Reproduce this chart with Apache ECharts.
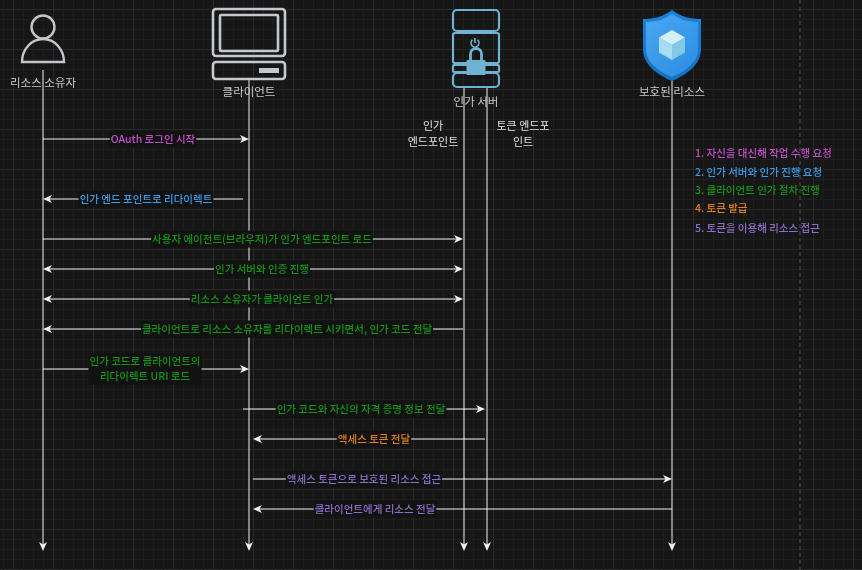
<!DOCTYPE html>
<html>
<head>
<meta charset="utf-8">
<title>OAuth 인가 코드 흐름</title>
<script src="https://cdn.jsdelivr.net/npm/echarts@6.0.0/dist/echarts.min.js"></script>
<style>
  html, body { margin: 0; padding: 0; background: #161616; }
  #main { width: 862px; height: 570px; }
</style>
</head>
<body>
<div id="main"></div>
<script>
// 참여자 (아이콘 + 이름)
var actorNames = ['리소스 소유자', '클라이언트', '인가 서버', '보호된 리소스'];
var actorX = [43, 249, 476, 672];
var actorIconY = [40, 44, 48, 45];
var actorLabelY = [83, 92, 102, 92];

// 생명선
var lifelineX = [43, 249, 464, 487, 672];
var lifelineTop = [70, 80, 88, 88, 80];
var lifelineEnd = 551;

// 인가 서버의 엔드포인트 이름
var endpointNames = ['인가\n엔드포인트', '토큰 엔드포\n인트'];
var endpointX = [433, 523];
var endpointY = [134, 134];

// 메시지
var msgLabels = [
  'OAuth 로그인 시작',
  '인가 엔드 포인트로 리다이렉트',
  '사용자 에이전트(브라우저)가 인가 엔드포인트 로드',
  '인가 서버와 인증 진행',
  '리소스 소유자가 클라이언트 인가',
  '클라이언트로 리소스 소유자를 리다이렉트 시키면서, 인가 코드 전달',
  '인가 코드로 클라이언트의\n리다이렉트 URI 로드',
  '인가 코드와 자신의 자격 증명 정보 전달',
  '액세스 토큰 전달',
  '액세스 토큰으로 보호된 리소스 접근',
  '클라이언트에게 리소스 전달'
];
var msgFrom = [43, 243, 43, 43, 43, 463, 43, 243, 485, 253, 672];
var msgTo = [249, 43, 463, 463, 463, 43, 249, 485, 253, 672, 253];
var msgY = [139, 199, 239, 269, 299, 329, 369, 409, 439, 479, 509];
var msgTwoWay = [0, 0, 0, 1, 1, 0, 0, 0, 0, 0, 0];
var msgLabelX = [153, 146, 262, 262, 262, 287, 145, 361, 374, 364, 375];
var msgStep = [0, 1, 2, 2, 2, 2, 2, 2, 3, 4, 4];

// 단계 설명
var stepNames = [
  '1. 자신을 대신해 작업 수행 요청',
  '2. 인가 서버와 인가 진행 요청',
  '3. 클라이언트 인가 절차 진행',
  '4. 토큰 발급',
  '5. 토큰을 이용해 리소스 접근'
];
var stepY = [153, 172, 190, 208, 228];
var stepX = [695, 695, 695, 695, 695];

var pageBreakX = [800];

var stepColors = ['#c24fc8', '#3b9be8', '#149514', '#e4801a', '#8a6ec8'];
var BG = '#161616';
var LINE = '#f0f0f0';
var FONT = '"Noto Sans CJK KR", "Noto Sans", sans-serif';

var chart = echarts.init(document.getElementById('main'));

// 화살촉 (draw.io classic 모양)
function arrowHead(x, y, dx, dy) {
  var L = 9, W = 4, N = 6.5;
  return {
    type: 'polygon',
    shape: { points: [
      [x, y],
      [x - dx * L - dy * W, y - dy * L + dx * W],
      [x - dx * N, y - dy * N],
      [x - dx * L + dy * W, y - dy * L - dx * W]
    ] },
    style: { fill: LINE }
  };
}

function renderLifeline(params, api) {
  var a = api.coord([api.value(0), api.value(1)]);
  var b = api.coord([api.value(0), api.value(2)]);
  return {
    type: 'group',
    children: [
      { type: 'line', shape: { x1: a[0], y1: a[1], x2: b[0], y2: b[1] - 3 }, style: { stroke: LINE, lineWidth: 1 } },
      arrowHead(b[0], b[1], 0, 1)
    ]
  };
}

function renderMessage(params, api) {
  var i = api.value(4);
  var a = api.coord([api.value(0), api.value(2)]);
  var b = api.coord([api.value(1), api.value(2)]);
  var dir = b[0] > a[0] ? 1 : -1;
  var twoWay = api.value(3) === 1;
  var children = [
    { type: 'line', shape: { x1: a[0] + (twoWay ? dir * 3 : 0), y1: a[1], x2: b[0] - dir * 3, y2: b[1] }, style: { stroke: LINE, lineWidth: 1 } },
    arrowHead(b[0], b[1], dir, 0)
  ];
  if (twoWay) children.push(arrowHead(a[0], a[1], -dir, 0));
  var lp = api.coord([msgLabelX[i], msgY[i]]);
  children.push({
    type: 'text', x: lp[0], y: lp[1],
    style: {
      text: msgLabels[i], fill: stepColors[msgStep[i]],
      fontSize: 10.5, fontWeight: 500, fontFamily: FONT, lineHeight: 15,
      align: 'center', verticalAlign: 'middle',
      backgroundColor: '#121212', padding: [1, 1]
    }
  });
  return { type: 'group', children: children };
}

function renderText(color, size, align, lineHeight) {
  return function (params, api) {
    var p = api.coord([api.value(0), api.value(1)]);
    return {
      type: 'text', x: p[0], y: p[1],
      style: {
        text: params.context.texts[api.value(2)],
        fill: color, fontSize: size, fontFamily: FONT, lineHeight: lineHeight,
        align: align, verticalAlign: 'middle'
      }
    };
  };
}

function renderIcon(params, api) {
  var p = api.coord([api.value(0), api.value(1)]);
  var k = api.value(2);
  var c = [];
  if (k === 0) {
    // 사람
    var st = { stroke: '#c3c7cc', lineWidth: 2.4, fill: 'none' };
    c.push({ type: 'circle', shape: { cx: 0, cy: -13, r: 11.5 }, style: st });
    c.push({ type: 'path', shape: { pathData: 'M -21 22 A 21 23 0 0 1 21 22 Z' }, style: st });
  } else if (k === 1) {
    // 컴퓨터
    var sc = { stroke: '#c5c9ce', lineWidth: 2.6, fill: 'none' };
    c.push({ type: 'rect', shape: { x: -36, y: -35, width: 72, height: 47, r: 3 }, style: sc });
    c.push({ type: 'rect', shape: { x: -29, y: -29, width: 58, height: 36, r: 1 }, style: sc });
    c.push({ type: 'rect', shape: { x: -36, y: 18, width: 72, height: 17, r: 3 }, style: sc });
    c.push({ type: 'rect', shape: { x: 10, y: 24, width: 20, height: 5 }, style: { fill: '#c5c9ce' } });
  } else if (k === 2) {
    // 서버
    var ss = { stroke: '#6fb2d2', lineWidth: 2.2, fill: 'none' };
    c.push({ type: 'rect', shape: { x: -23, y: -38, width: 46, height: 21, r: 4 }, style: ss });
    c.push({ type: 'rect', shape: { x: -23, y: -15, width: 46, height: 30, r: 2 }, style: ss });
    c.push({ type: 'rect', shape: { x: -23, y: 17, width: 46, height: 7, r: 1 }, style: ss });
    c.push({ type: 'rect', shape: { x: -23, y: 25, width: 46, height: 14, r: 4 }, style: ss });
    c.push({ type: 'arc', shape: { cx: -1, cy: -5, r: 4, startAngle: -Math.PI / 2 + 0.7, endAngle: Math.PI * 1.5 - 0.7 }, style: { stroke: '#6fb2d2', lineWidth: 1.6, fill: 'none' } });
    c.push({ type: 'line', shape: { x1: -1, y1: -10, x2: -1, y2: -5 }, style: { stroke: '#6fb2d2', lineWidth: 1.6 } });
    c.push({ type: 'path', shape: { pathData: 'M -5.5 12 L -5.5 6 A 5.5 5.5 0 0 1 5.5 6 L 5.5 12' }, style: { stroke: '#6fb2d2', lineWidth: 2.8, fill: 'none' } });
    c.push({ type: 'rect', shape: { x: -9.5, y: 12, width: 19, height: 15, r: 1 }, style: { fill: '#6fb2d2' } });
  } else {
    // 방패 + 큐브
    c.push({
      type: 'path',
      shape: { pathData: 'M 0 -35 C 9 -28 19 -26 29 -26 L 29 4 C 29 19 16 29 0 36 C -16 29 -29 19 -29 4 L -29 -26 C -19 -26 -9 -28 0 -35 Z' },
      style: { fill: new echarts.graphic.LinearGradient(0, 0, 0, 1, [{ offset: 0, color: '#1b82da' }, { offset: 1, color: '#1670c4' }]) }
    });
    c.push({
      type: 'path',
      shape: { pathData: 'M 0 -31 C 8 -25 17 -23 26 -23 L 26 4 C 26 17 14 26 0 32 C -14 26 -26 17 -26 4 L -26 -23 C -17 -23 -8 -25 0 -31 Z' },
      style: { fill: new echarts.graphic.LinearGradient(0, 0, 1, 1, [{ offset: 0, color: '#4aa9f1' }, { offset: 1, color: '#2b8be2' }]) }
    });
    c.push({ type: 'polygon', shape: { points: [[0, -15], [13, -7.5], [0, 0], [-13, -7.5]] }, style: { fill: '#d4f1fa' } });
    c.push({ type: 'polygon', shape: { points: [[-13, -7.5], [0, 0], [0, 15], [-13, 7.5]] }, style: { fill: '#a8dcf1' } });
    c.push({ type: 'polygon', shape: { points: [[0, 0], [13, -7.5], [13, 7.5], [0, 15]] }, style: { fill: '#84c8e8' } });
  }
  return { type: 'group', x: p[0], y: p[1], children: c };
}

var hiddenAxis = { type: 'value', show: false };
var gridAxis = {
  type: 'value', min: 0, interval: 40,
  axisLine: { show: false }, axisTick: { show: false }, axisLabel: { show: false },
  splitLine: { show: true, lineStyle: { color: '#2a2a2a', width: 1 } },
  minorTick: { show: false, splitNumber: 4 },
  minorSplitLine: { show: true, lineStyle: { color: '#1e1e1e', width: 1 } }
};

var option = {
  backgroundColor: BG,
  animation: false,
  grid: [
    { left: 0, top: 0, width: 862, height: 570, outerBoundsMode: 'none' },
    { left: -27, top: -31, width: 920, height: 640, outerBoundsMode: 'none' }
  ],
  xAxis: [
    Object.assign({}, hiddenAxis, { gridIndex: 0, min: 0, max: 862 }),
    Object.assign({}, gridAxis, { gridIndex: 1, max: 920 })
  ],
  yAxis: [
    Object.assign({}, hiddenAxis, { gridIndex: 0, min: 0, max: 570, inverse: true }),
    Object.assign({}, gridAxis, { gridIndex: 1, max: 640 })
  ],
  series: [
    {
      type: 'custom', silent: true, z: 1,
      renderItem: function (params, api) {
        var a = api.coord([api.value(0), 0]);
        var b = api.coord([api.value(0), 570]);
        return { type: 'line', shape: { x1: a[0], y1: a[1], x2: b[0], y2: b[1] }, style: { stroke: '#555555', lineWidth: 1, lineDash: [4, 3] } };
      },
      data: pageBreakX.map(function (x) { return [x]; })
    },
    {
      type: 'custom', silent: true, z: 2,
      renderItem: renderLifeline,
      data: lifelineX.map(function (x, i) { return [x, lifelineTop[i], lifelineEnd]; })
    },
    {
      type: 'custom', silent: true, z: 3,
      renderItem: renderMessage,
      data: msgY.map(function (y, i) { return [msgFrom[i], msgTo[i], y, msgTwoWay[i], i]; })
    },
    {
      type: 'custom', silent: true, z: 4,
      renderItem: renderIcon,
      data: actorX.map(function (x, i) { return [x, actorIconY[i], i]; })
    },
    {
      type: 'custom', silent: true, z: 4,
      renderItem: function (params, api) { params.context.texts = actorNames; return renderText('#c9c9c9', 11.5, 'center', 15)(params, api); },
      data: actorX.map(function (x, i) { return [x, actorLabelY[i], i]; })
    },
    {
      type: 'custom', silent: true, z: 4,
      renderItem: function (params, api) { params.context.texts = endpointNames; return renderText('#e2e2e2', 11, 'center', 16)(params, api); },
      data: endpointX.map(function (x, i) { return [x, endpointY[i], i]; })
    },
    {
      type: 'custom', silent: true, z: 4,
      renderItem: function (params, api) {
        var p = api.coord([api.value(0), api.value(1)]);
        var i = api.value(2);
        return {
          type: 'text', x: p[0], y: p[1],
          style: { text: stepNames[i], fill: stepColors[i], fontSize: 10.5, fontWeight: 500, fontFamily: FONT, align: 'left', verticalAlign: 'middle' }
        };
      },
      data: stepX.map(function (x, i) { return [x, stepY[i], i]; })
    }
  ]
};

chart.setOption(option);
</script>
</body>
</html>
